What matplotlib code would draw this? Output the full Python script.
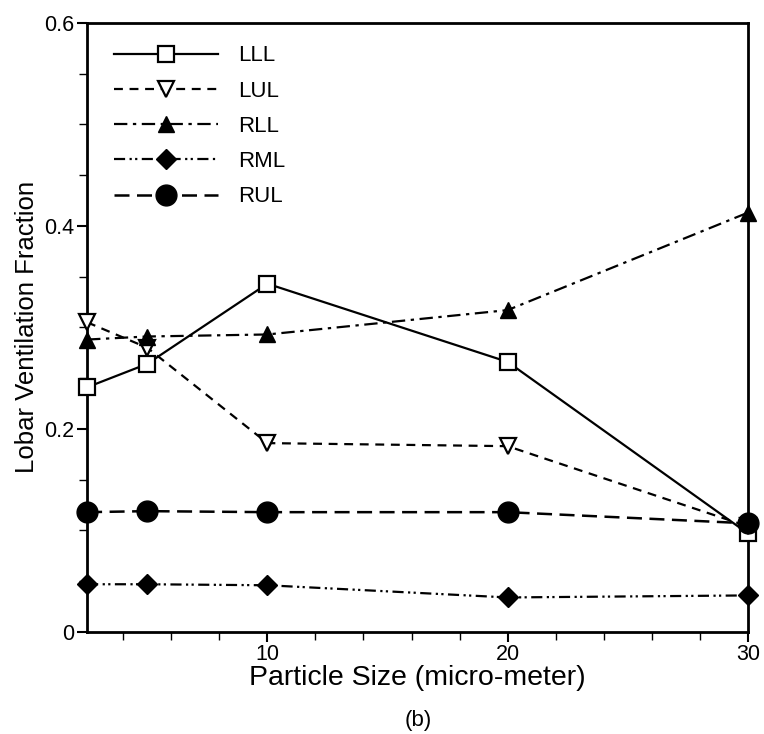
import matplotlib
matplotlib.use("Agg")
import matplotlib.pyplot as plt
from matplotlib.ticker import MultipleLocator, FuncFormatter

plt.rcParams['font.family'] = ['Liberation Sans', 'DejaVu Sans']

# particle size (micro-meter)
sizes = [2.5, 5, 10, 20, 30]

# lobar ventilation fraction per lobe
lll = [0.241, 0.264, 0.343, 0.266, 0.097]
lul = [0.305, 0.280, 0.186, 0.183, 0.104]
rll = [0.288, 0.291, 0.293, 0.317, 0.413]
rml = [0.047, 0.047, 0.046, 0.034, 0.036]
rul = [0.118, 0.119, 0.118, 0.118, 0.107]

fig = plt.figure(figsize=(7.64, 7.34), dpi=100)
ax = fig.add_axes([0.114, 0.139, 0.865, 0.830])

ax.plot(sizes, lll, color='black', lw=1.6, ls='-', marker='s', ms=12,
        mfc='white', mec='black', mew=1.6, label='LLL', clip_on=False, zorder=3)
ax.plot(sizes, lul, color='black', lw=1.6, ls=(0, (4, 3)), marker='v', ms=12,
        mfc='white', mec='black', mew=1.6, label='LUL', clip_on=False, zorder=3)
ax.plot(sizes, rll, color='black', lw=1.6, ls=(0, (6, 2.5, 1.5, 2.5)), marker='^', ms=11,
        mfc='black', mec='black', label='RLL', clip_on=False, zorder=3)
ax.plot(sizes, rml, color='black', lw=1.6, ls=(0, (5, 2, 1, 1.5, 1, 2)), marker='D', ms=10,
        mfc='black', mec='black', label='RML', clip_on=False, zorder=3)
ax.plot(sizes, rul, color='black', lw=1.8, ls=(0, (6, 3)), marker='o', ms=15,
        mfc='black', mec='black', label='RUL', clip_on=False, zorder=3)

ax.set_xlim(2.5, 30)
ax.set_ylim(0, 0.6)
ax.xaxis.set_major_locator(MultipleLocator(10))
ax.xaxis.set_minor_locator(MultipleLocator(2))
ax.yaxis.set_major_locator(MultipleLocator(0.2))
ax.yaxis.set_minor_locator(MultipleLocator(0.05))
ax.yaxis.set_major_formatter(FuncFormatter(lambda v, p: '0' if abs(v) < 1e-9 else f'{v:.1f}'))

for s in ax.spines.values():
    s.set_linewidth(2)
ax.tick_params(which='major', direction='out', length=7, width=1.5, labelsize=15.5,
               top=False, right=False, pad=2)
ax.tick_params(which='minor', direction='out', length=6, width=1, top=False, right=False)

ax.set_xlabel('Particle Size (micro-meter)', fontsize=20.5, labelpad=0)
ax.set_ylabel('Lobar Ventilation Fraction', fontsize=18.5, labelpad=4)

leg = ax.legend(loc='upper left', frameon=False, fontsize=16, handlelength=4.7,
                handletextpad=0.9, labelspacing=0.64, borderaxespad=0.62,
                bbox_to_anchor=(0.006, 1.0))

fig.text(0.548, 0.018, '(b)', fontsize=16, ha='center', va='center')

fig.savefig('out.png', dpi=100)
